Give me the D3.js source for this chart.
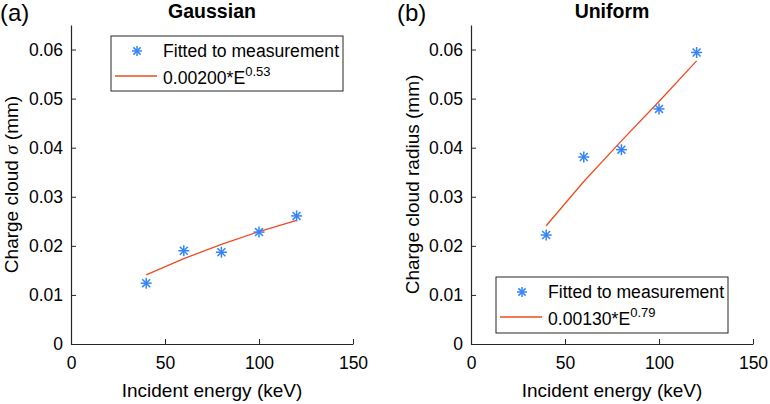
<!DOCTYPE html>
<html>
<head>
<meta charset="utf-8">
<script src="https://cdn.jsdelivr.net/npm/d3@7/dist/d3.min.js"></script>
<style>
  html, body { margin: 0; padding: 0; background: #fff; }
  svg text { font-family: "Liberation Sans", Arial, Helvetica, sans-serif; fill: #000; }
</style>
</head>
<body>
<svg id="chart" width="770" height="404"></svg>
<script>
// ---- data ----
const energies = [40, 60, 80, 100, 120];
const gaussMeasured = [0.0124, 0.0190, 0.0187, 0.0228, 0.0261];
const gaussFit = [0.0141, 0.0174, 0.0203, 0.0229, 0.0252];
const uniformMeasured = [0.0222, 0.0381, 0.0396, 0.0479, 0.0594];
const uniformFit = [0.0241, 0.0331, 0.0414, 0.0494, 0.0577];
const xTicks = [0, 50, 100, 150];
const yTicks = [0, 0.01, 0.02, 0.03, 0.04, 0.05, 0.06];
const xDomain = [0, 150];
const yDomain = [0, 0.065];

const svg = d3.select("#chart");
const axisColor = "#262626";
const markerColor = "#3385f5";
const lineColor = "#ee4b1e";

function asterisk(g, x, y, r) {
  const s = g.append("g").attr("transform", `translate(${x},${y})`)
    .attr("stroke", markerColor).attr("stroke-width", 1.5);
  const d = r * 0.72;
  s.append("line").attr("x1", -r).attr("x2", r).attr("y1", 0).attr("y2", 0);
  s.append("line").attr("x1", 0).attr("x2", 0).attr("y1", -r).attr("y2", r);
  s.append("line").attr("x1", -d).attr("x2", d).attr("y1", -d).attr("y2", d);
  s.append("line").attr("x1", -d).attr("x2", d).attr("y1", d).attr("y2", -d);
}

function panel(opts) {
  const { left, right, top, bottom } = opts;
  const x = d3.scaleLinear().domain(xDomain).range([left, right]);
  const y = d3.scaleLinear().domain(yDomain).range([bottom, top]);
  const g = svg.append("g");

  const xAxis = g.append("g").attr("transform", `translate(0,${bottom})`)
    .call(d3.axisBottom(x).tickValues(xTicks).tickFormat(d3.format("d"))
      .tickSizeInner(-5).tickSizeOuter(0).tickPadding(13));
  const yAxis = g.append("g").attr("transform", `translate(${left},0)`)
    .call(d3.axisLeft(y).tickValues(yTicks).tickFormat(d => d === 0 ? "0" : d3.format(".2f")(d))
      .tickSizeInner(-5).tickSizeOuter(0).tickPadding(8));
  [xAxis, yAxis].forEach(a => {
    a.selectAll("path").attr("stroke", axisColor).attr("stroke-width", 1.2);
    a.selectAll("line").attr("stroke", axisColor).attr("stroke-width", 1);
    a.selectAll("text").style("font-size", "17.5px").attr("fill", "#000");
  });

  // fit line
  const line = d3.line().x((d, i) => x(energies[i])).y(d => y(d));
  g.append("path").datum(opts.fit).attr("d", line)
    .attr("fill", "none").attr("stroke", lineColor).attr("stroke-width", 1.3);
  // markers
  opts.measured.forEach((v, i) => asterisk(g, x(energies[i]), y(v), 5.5));

  // title
  g.append("text").attr("x", (left + right) / 2).attr("y", 18)
    .attr("text-anchor", "middle").style("font-size", "19.5px").style("font-weight", "bold")
    .text(opts.title);
  // panel label
  g.append("text").attr("x", opts.tagX).attr("y", 21)
    .style("font-size", "24px").text(opts.tag);
  // x label
  g.append("text").attr("x", (left + right) / 2).attr("y", 397)
    .attr("text-anchor", "middle").style("font-size", "19px")
    .text("Incident energy (keV)");
  // y label
  const yl = g.append("text")
    .attr("transform", `translate(${opts.ylabX},${(top + bottom) / 2}) rotate(-90)`)
    .attr("text-anchor", "middle").style("font-size", "19px");
  opts.ylabel(yl);

  // legend
  const L = opts.legend;
  g.append("rect").attr("x", L.x).attr("y", L.y).attr("width", L.w).attr("height", L.h)
    .attr("fill", "#fff").attr("stroke", axisColor).attr("stroke-width", 1);
  asterisk(g, L.x + 26, L.y + 15, 5);
  g.append("text").attr("x", L.x + 52).attr("y", L.y + 21)
    .style("font-size", "17.6px").text("Fitted to measurement");
  g.append("line").attr("x1", L.x + 4).attr("x2", L.x + 46)
    .attr("y1", L.y + 40).attr("y2", L.y + 40)
    .attr("stroke", lineColor).attr("stroke-width", 1.3);
  const t2 = g.append("text").attr("x", L.x + 52).attr("y", L.y + 48)
    .style("font-size", "17.6px");
  t2.append("tspan").text(opts.coef + "*E");
  t2.append("tspan").attr("dy", -8).style("font-size", "13px").text(opts.exp);
}

panel({
  left: 71, right: 353, top: 25, bottom: 344,
  measured: gaussMeasured, fit: gaussFit,
  title: "Gaussian", tag: "(a)", tagX: 0, ylabX: 18,
  ylabel: t => {
    t.append("tspan").text("Charge cloud ");
    t.append("tspan").style("font-family", "'Liberation Serif', 'Times New Roman', serif")
      .style("font-style", "italic").text("σ");
    t.append("tspan").text(" (mm)");
  },
  legend: { x: 111, y: 36, w: 232, h: 55 },
  coef: "0.00200", exp: "0.53"
});

panel({
  left: 471, right: 753, top: 25, bottom: 344,
  measured: uniformMeasured, fit: uniformFit,
  title: "Uniform", tag: "(b)", tagX: 397, ylabX: 419,
  ylabel: t => t.text("Charge cloud radius (mm)"),
  legend: { x: 496, y: 277, w: 232, h: 56 },
  coef: "0.00130", exp: "0.79"
});
</script>
</body>
</html>
